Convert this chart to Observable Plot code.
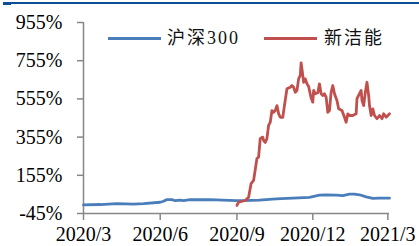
<!DOCTYPE html>
<html>
<head>
<meta charset="utf-8">
<script src="https://cdn.jsdelivr.net/npm/d3@7"></script>
<script src="https://cdn.jsdelivr.net/npm/@observablehq/plot@0.6"></script>
<style>
  html, body { margin: 0; padding: 0; background: #fff; }
  #wrap { position: relative; width: 419px; height: 246px; overflow: hidden; }
  .topbar { position: absolute; left: 3px; top: 2px; width: 416px; height: 2px; background: #0b4f96; }
  .topbar2 { position: absolute; left: 3px; top: 2px; width: 8px; height: 3px; background: #0b4f96; }
  .leg { position: absolute; top: 27px; font-family: "Liberation Serif", "Times New Roman", "DejaVu Serif", "Noto Sans CJK SC", serif; font-size: 18px; letter-spacing: 2px; color: #111; line-height: 22px; }
  .legline { position: absolute; top: 37px; height: 3px; width: 53px; }
  #chart svg text { font-family: "Liberation Serif", "Times New Roman", "DejaVu Serif", serif; }
</style>
</head>
<body>
<div id="wrap">
  <div class="topbar"></div>
  <div class="topbar2"></div>
  <div id="chart"></div>
  <div id="legend"></div>
</div>
<script>
// Series names and colours
const seriesNames = ["沪深300", "新洁能"];
const seriesColors = ["#4a7ebb", "#c0504d"];

// 沪深300 cumulative return (%)
const hs300Dates = ["2020-03-01","2020-03-21","2020-04-10","2020-04-30","2020-05-12","2020-06-01","2020-06-05","2020-06-09","2020-06-15","2020-06-19","2020-06-25","2020-06-29","2020-07-07","2020-07-19","2020-07-31","2020-08-15","2020-08-31","2020-09-08","2020-09-28","2020-10-18","2020-11-07","2020-11-27","2020-12-09","2020-12-17","2020-12-29","2021-01-06","2021-01-14","2021-01-20","2021-01-26","2021-02-03","2021-02-11","2021-02-19","2021-03-03"];
const hs300Values = [0,2,7,4,7,14,19,28,28,22,25,22,28,27,28,25,22,22,25,32,35,39,51,53,51,49,56,56,53,42,34,35,35];

// 新洁能 cumulative return (%)
const xjnDates = ["2020-09-01","2020-09-03","2020-09-11","2020-09-15","2020-09-18","2020-09-21","2020-09-25","2020-09-27","2020-09-29","2020-10-02","2020-10-03","2020-10-05","2020-10-07","2020-10-09","2020-10-11","2020-10-13","2020-10-15","2020-10-17","2020-10-19","2020-10-21","2020-10-23","2020-10-26","2020-10-28","2020-10-31","2020-11-04","2020-11-06","2020-11-08","2020-11-10","2020-11-12","2020-11-14","2020-11-16","2020-11-17","2020-11-19","2020-11-20","2020-11-22","2020-11-24","2020-11-26","2020-11-29","2020-12-01","2020-12-02","2020-12-04","2020-12-07","2020-12-09","2020-12-11","2020-12-13","2020-12-15","2020-12-17","2020-12-19","2020-12-21","2020-12-23","2020-12-25","2020-12-27","2020-12-30","2021-01-01","2021-01-05","2021-01-08","2021-01-10","2021-01-12","2021-01-14","2021-01-18","2021-01-22","2021-01-23","2021-01-26","2021-01-28","2021-01-29","2021-01-31","2021-02-02","2021-02-04","2021-02-06","2021-02-07","2021-02-09","2021-02-11","2021-02-13","2021-02-16","2021-02-19","2021-02-22","2021-02-24","2021-02-27","2021-03-01","2021-03-03"];
const xjnValues = [-3,14,23,40,112,128,243,250,348,355,337,327,348,416,433,494,485,494,520,478,459,459,520,608,616,625,616,590,599,660,678,744,678,642,660,634,620,560,538,599,582,587,634,582,573,582,564,485,494,590,625,582,547,503,494,459,433,477,468,468,477,556,582,599,547,520,590,642,573,520,468,503,468,451,468,451,477,459,468,477];

// Axis ticks
const xTickDates = ["2020-03-01","2020-06-01","2020-09-01","2020-12-01","2021-03-01"];
const xTickLabels = ["2020/3","2020/6","2020/9","2020/12","2021/3"];
const yTicks = [-45,155,355,555,755,955];

const parse = d3.utcParse("%Y-%m-%d");
const rows = [];
hs300Dates.forEach((d,i) => rows.push({series: seriesNames[0], date: parse(d), value: hs300Values[i]}));
xjnDates.forEach((d,i) => rows.push({series: seriesNames[1], date: parse(d), value: xjnValues[i]}));
const xTicks = xTickDates.map(parse);
const xDomain = [parse("2020-03-01"), parse("2021-03-03")];

const axisColor = "#878787";
const serif = "'Liberation Serif', 'Times New Roman', 'DejaVu Serif', serif";
const chart = Plot.plot({
  width: 419,
  height: 246,
  marginLeft: 83,
  marginRight: 30,
  marginTop: 22,
  marginBottom: 33,
  style: {fontFamily: serif, fontSize: "20px", color: "#000", background: "transparent"},
  x: {type: "utc", domain: xDomain},
  y: {domain: [-45, 955]},
  color: {domain: seriesNames, range: seriesColors},
  marks: [
    Plot.axisY({ticks: yTicks, tickFormat: d => d + "%", tickSize: 6, tickPadding: 15, stroke: axisColor, strokeWidth: 1.5, fill: "#000", fontFamily: serif, fontSize: 20, label: null}),
    Plot.axisX({ticks: xTicks, tickFormat: (d, i) => xTickLabels[i], tickSize: 7, tickPadding: 6, stroke: axisColor, strokeWidth: 1.5, fill: "#000", fontFamily: serif, fontSize: 20, label: null}),
    Plot.ruleX([xDomain[0]], {stroke: axisColor, strokeWidth: 1.5}),
    Plot.ruleY([-45], {stroke: axisColor, strokeWidth: 1.5}),
    Plot.line(rows, {x: "date", y: "value", z: "series", stroke: "series", strokeWidth: 2.8, curve: "linear"})
  ]
});
document.getElementById("chart").appendChild(chart);

// Legend overlay
const legend = document.getElementById("legend");
const legX = [[108, 167], [264, 324]];
seriesNames.forEach((name, i) => {
  const l = document.createElement("div");
  l.className = "legline";
  l.style.left = legX[i][0] + "px";
  l.style.background = seriesColors[i];
  legend.appendChild(l);
  const t = document.createElement("div");
  t.className = "leg";
  t.style.left = legX[i][1] + "px";
  t.textContent = name;
  legend.appendChild(t);
});
</script>
</body>
</html>
